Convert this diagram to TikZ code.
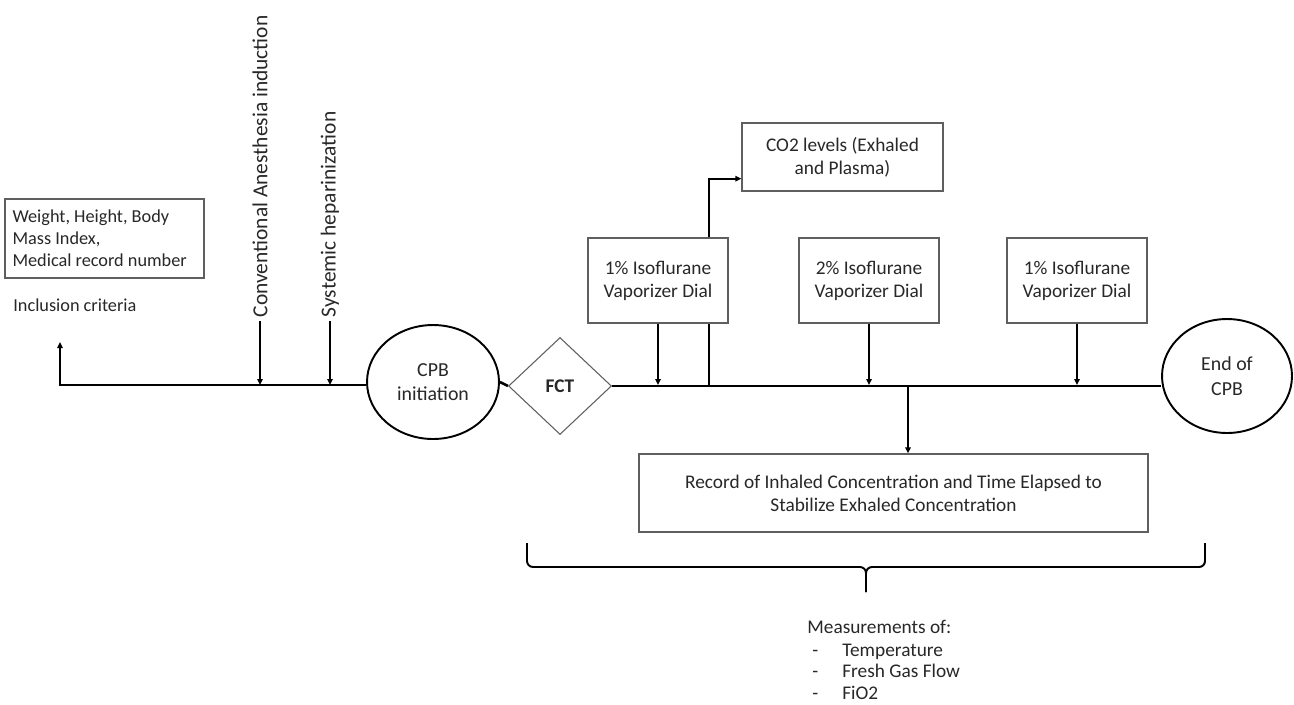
\documentclass[tikz,border=0pt]{standalone}
\usepackage{fontspec}
\setmainfont{Carlito}
\usetikzlibrary{arrows.meta, positioning, shapes.geometric, calc}
\definecolor{boxgray}{RGB}{95,95,95}
\definecolor{txtgray}{RGB}{40,40,40}

\begin{document}
\begin{tikzpicture}[x=0.02cm, y=-0.02cm,
    every node/.style={font=\fontsize{11}{13}\selectfont, text=txtgray},
    box/.style={draw=boxgray, line width=0.8pt, minimum width=2.8cm, minimum height=1.7cm, align=center, inner sep=2pt},
    evt/.style={ellipse, draw=black, line width=1.1pt, minimum width=2.64cm, minimum height=2.28cm, inner sep=0pt, align=center, font=\fontsize{11.3}{14}\selectfont},
    dec/.style={diamond, draw=boxgray, line width=0.6pt, minimum width=2.06cm, minimum height=1.94cm, inner sep=0pt, font=\fontsize{11}{13}\selectfont\bfseries},
    lbl/.style={rotate=90, anchor=west, inner sep=2pt, font=\fontsize{12.2}{14}\selectfont},
    small/.style={font=\fontsize{10.4}{12.5}\selectfont},
    item/.style={anchor=base west, inner sep=0pt},
    mainln/.style={line width=1.5pt},
    ln/.style={line width=1.1pt},
    arr/.style={ln, -{Triangle[length=1.2mm, width=1.1mm]}},
    brc/.style={line width=1.1pt, rounded corners=0.12cm}
  ]
  \fill[white] (0,0) rectangle (1294,704);
  \useasboundingbox (0,0) rectangle (1294,704);

  \node[box, small, minimum width=3.98cm, minimum height=1.58cm, inner sep=0.15cm, text width=3.68cm, align=flush left] (info) at (104.5,238.5) {Weight, Height, Body\\Mass Index,\\Medical record number};
  \node[small, anchor=west, inner sep=0pt] (incl) at (13,305) {Inclusion criteria};

  \node[lbl] (conv) at (260,321) {Conventional Anesthesia induction};
  \node[lbl] (hep) at (330,321) {Systemic heparinization};

  \node[evt] (cpb) at (433,382) {CPB\\initiation};
  \node[dec] (fct) at (560,386) {FCT};
  \node[evt, minimum width=2.6cm] (endcpb) at (1227,376) {End of\\CPB};

  \node[box] (iso1) at (658,280.5) {1\% Isoflurane\\Vaporizer Dial};
  \node[box] (iso2) at (869,280.5) {2\% Isoflurane\\Vaporizer Dial};
  \node[box] (iso3) at (1077,280.5) {1\% Isoflurane\\Vaporizer Dial};
  \node[box, minimum width=4.02cm, minimum height=1.36cm] (co2) at (842.5,157) {CO2 levels (Exhaled\\and Plasma)};
  \node[box, minimum width=10.18cm, minimum height=1.56cm] (rec) at (893.5,493) {Record of Inhaled Concentration and Time Elapsed to\\Stabilize Exhaled Concentration};

  \coordinate (lft) at (60,385);
  \coordinate (up) at (60,342);
  \coordinate (co2x) at (709,385);
  \coordinate (recx) at (908,385);

  \draw[mainln, -{Triangle[length=1.2mm, width=1.1mm]}] (lft -| cpb.west) -- (lft) -- (up);
  \draw[mainln] (cpb.east) -- (fct.west);
  \draw[mainln] (fct.east) -- (fct.east -| endcpb.west);

  \draw[arr] (conv.west) -- (conv.west |- lft);
  \draw[arr] (hep.west) -- (hep.west |- lft);
  \draw[arr] (iso1.south) -- (iso1.south |- lft);
  \draw[arr] (iso2.south) -- (iso2.south |- lft);
  \draw[arr] (iso3.south) -- (iso3.south |- lft);
  \draw[ln] (co2x) -- (co2x |- iso1.south);
  \draw[arr] (co2x |- iso1.north) |- ([yshift=0.26cm]co2.south west);
  \draw[arr] (recx) -- (recx |- rec.north);

  \coordinate (brl) at (527,543);
  \coordinate (brr) at (1205,543);
  \coordinate (brm) at (866,567);
  \coordinate (brt) at (866,592);
  \draw[brc] (brl) |- (brm) -- (brt);
  \draw[brc] (brr) |- (brm) -- (brt);

  \node[item] (meas) at (807,633) {Measurements of:};
  \foreach \t [count=\i] in {Temperature, Fresh Gas Flow, FiO2} {
    \node[item] (dash\i) at (812,634.5+21.5*\i) {-};
    \node[item] (entry\i) at (842,634.5+21.5*\i) {\t};
  }
\end{tikzpicture}
\end{document}
